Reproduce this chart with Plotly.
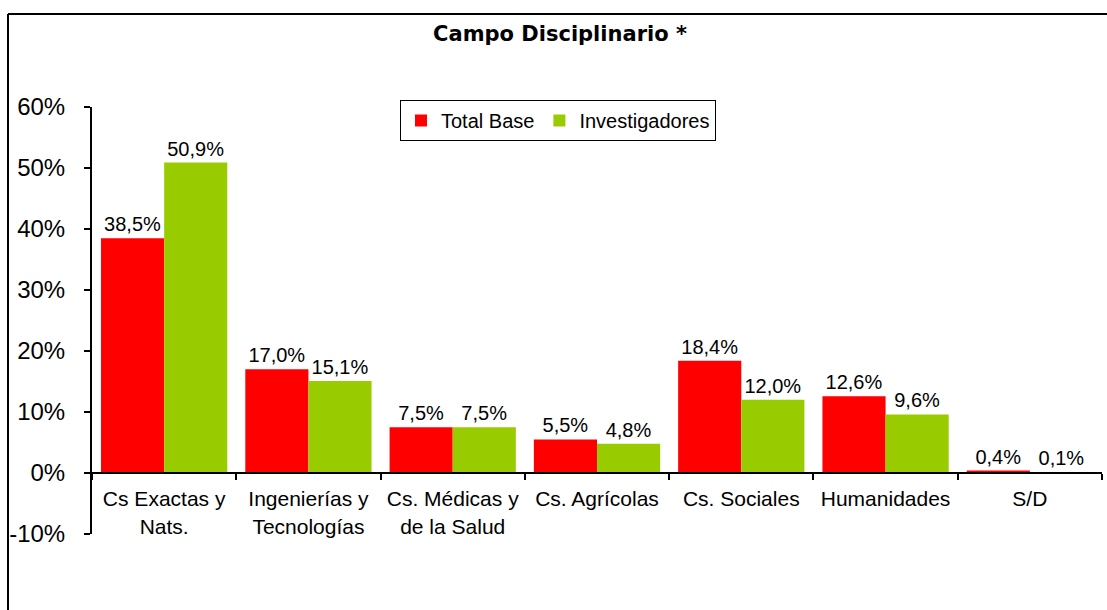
import plotly.graph_objects as go

categories = ["Cs Exactas y<br>Nats.", "Ingenierías y<br>Tecnologías", "Cs. Médicas y<br>de la Salud",
              "Cs. Agrícolas", "Cs. Sociales", "Humanidades", "S/D"]
total_base = [38.5, 17.0, 7.5, 5.5, 18.4, 12.6, 0.4]
investigadores = [50.9, 15.1, 7.5, 4.8, 12.0, 9.6, 0.1]
series_names = ["Total Base", "Investigadores"]
colors = ["#FF0000", "#99CC00"]
y_ticks = [-10, 0, 10, 20, 30, 40, 50, 60]
y_ticklabels = ["-10%", "0%", "10%", "20%", "30%", "40%", "50%", "60%"]

W, H = 1107, 610
L, R, T, B = 92, 5, 107, 76
pw, ph = W - L - R, H - T - B

def px_x(x):
    return (x - L) / pw

def px_y(y):
    return (H - B - y) / ph

def fmt(v):
    return f"{v:.1f}%".replace(".", ",")

fig = go.Figure()
for name, vals, col in zip(series_names, [total_base, investigadores], colors):
    fig.add_trace(go.Bar(
        x=categories, y=[v / 100 for v in vals], name=name,
        marker=dict(color=col, line=dict(width=0)),
        text=[fmt(v) for v in vals], textposition="outside",
        textfont=dict(family="Liberation Sans", size=20, color="black"),
        cliponaxis=False,
    ))

fig.update_layout(
    width=W, height=H,
    margin=dict(l=L, r=R, t=T, b=B),
    paper_bgcolor="white", plot_bgcolor="white",
    barmode="group", bargap=0.125, bargroupgap=0,
    font=dict(family="Liberation Sans", size=20, color="black"),
    title=dict(text="<b>Campo Disciplinario *</b>", x=560 / W, xref="container",
               y=1 - 34 / H, yref="container", xanchor="center", yanchor="middle",
               font=dict(family="DejaVu Sans", size=21, color="black")),
    legend=dict(orientation="h", x=px_x(400), y=px_y(100), xanchor="left", yanchor="top",
                bordercolor="black", borderwidth=1, bgcolor="white",
                font=dict(family="Liberation Sans", size=20), itemwidth=30,
                traceorder="normal", tracegroupgap=0),
    showlegend=True,
)
fig.update_yaxes(range=[-0.1, 0.6], tickvals=[t / 100 for t in y_ticks], ticktext=y_ticklabels,
                 showgrid=False, zeroline=False,
                 showline=True, linecolor="black", linewidth=2,
                 ticks="outside", ticklen=6, tickwidth=2, tickcolor="black",
                 ticklabelstandoff=14, tickfont=dict(size=24))
fig.update_xaxes(anchor="free", position=1 / 7, showline=True, linecolor="black", linewidth=2,
                 ticks="outside", tickson="boundaries", ticklen=6, tickwidth=2, tickcolor="black",
                 showgrid=False, tickfont=dict(size=21), ticklabelstandoff=7)

# outer frame (top and left edges visible)
fig.add_shape(type="line", xref="paper", yref="paper", x0=px_x(8), x1=px_x(1120), y0=px_y(14), y1=px_y(14),
              line=dict(color="black", width=2))
fig.add_shape(type="line", xref="paper", yref="paper", x0=px_x(8), x1=px_x(8), y0=px_y(14), y1=px_y(620),
              line=dict(color="black", width=2))

fig.write_html("out.html", config={"displayModeBar": False},
               post_script="document.body.style.margin='0px';")
